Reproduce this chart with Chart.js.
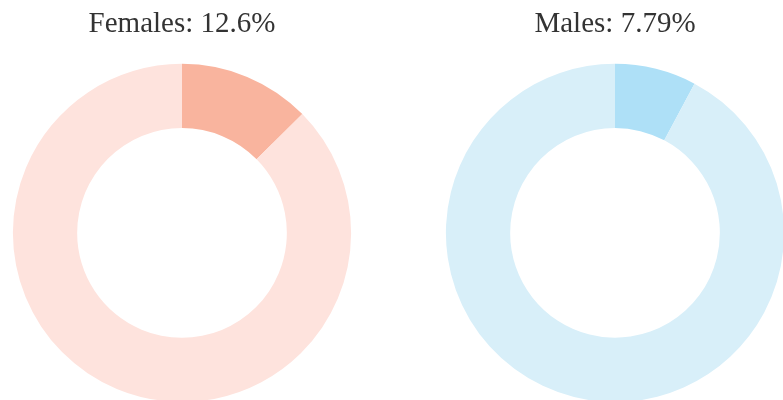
<!DOCTYPE html>
<html>
<head>
<meta charset="utf-8">
<script src="https://cdn.jsdelivr.net/npm/chart.js@4.4.0/dist/chart.umd.min.js"></script>
<style>
  html, body { margin: 0; padding: 0; background: #fff; overflow: hidden; }
  body { width: 783px; height: 400px; position: relative; }
  .box { position: absolute; top: 0; height: 402px; }
  #boxF { left: 0; width: 364px; }
  #boxM { left: 432px; width: 366px; }
</style>
</head>
<body>
<div class="box" id="boxF"><canvas id="femaleChart"></canvas></div>
<div class="box" id="boxM"><canvas id="maleChart"></canvas></div>
<script>
// share of each group
var groups = ["Females", "Males"];
var shares = [12.6, 7.79];
var sliceLabels = ["Share", "Rest"];
var highlightColors = ["#f9b49e", "#aee0f7"];
var restColors = ["#fee3dd", "#d8eff9"];

function makeDonut(id, i) {
  var ctx = document.getElementById(id).getContext('2d');
  return new Chart(ctx, {
    type: 'doughnut',
    data: {
      labels: sliceLabels,
      datasets: [{
        data: [shares[i], 100 - shares[i]],
        backgroundColor: [highlightColors[i], restColors[i]],
        borderWidth: 0,
        hoverOffset: 0
      }]
    },
    options: {
      responsive: true,
      maintainAspectRatio: false,
      animation: false,
      cutout: '62%',
      events: [],
      layout: { padding: 0 },
      plugins: {
        legend: { display: false },
        tooltip: { enabled: false },
        title: {
          display: true,
          text: groups[i] + ': ' + shares[i] + '%',
          color: '#333333',
          font: { family: '"Liberation Serif", "DejaVu Serif", serif', size: 29, weight: 'normal', lineHeight: 1.2 },
          padding: { top: 7, bottom: 22 }
        }
      }
    }
  });
}

makeDonut('femaleChart', 0);
makeDonut('maleChart', 1);
</script>
</body>
</html>
